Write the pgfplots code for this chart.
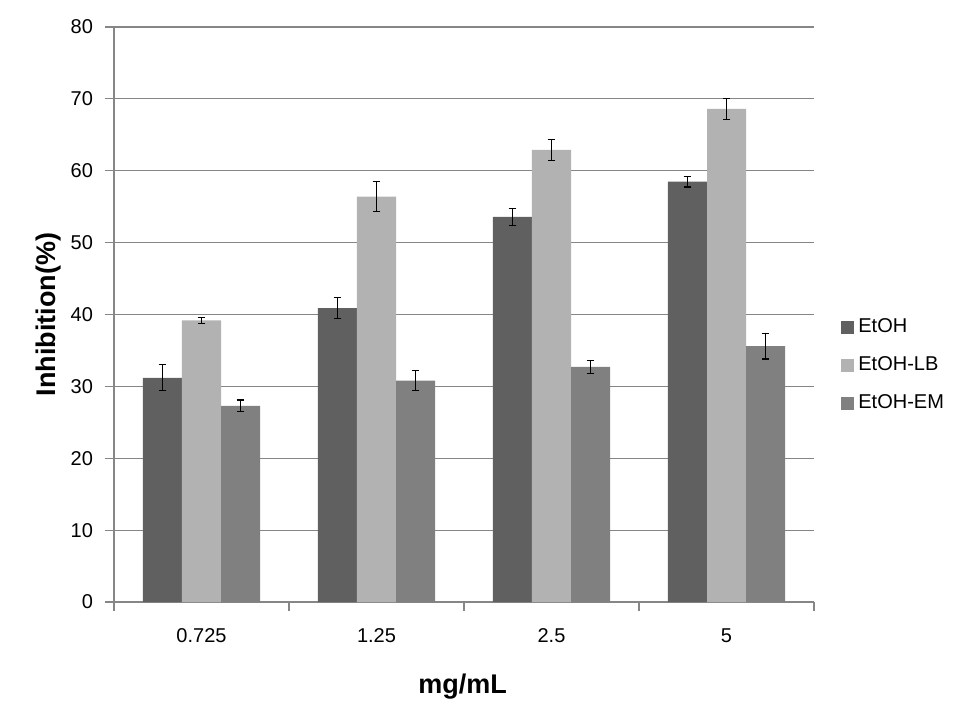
\documentclass[border=0pt]{standalone}
\usepackage{fontspec}
\setmainfont{Liberation Sans}
\usepackage{pgfplots}
\usepackage{pgfplotstable}
\pgfplotsset{compat=1.18}
\definecolor{cA}{RGB}{96,96,96}
\definecolor{cB}{RGB}{178,178,178}
\definecolor{cC}{RGB}{128,128,128}
\definecolor{gridgray}{RGB}{134,134,134}

\pgfplotstableread{
x y e
0 31.2 1.8
1 40.9 1.5
2 53.6 1.2
3 58.5 0.75
}\etoh
\pgfplotstableread{
x y e
0 39.2 0.4
1 56.4 2.1
2 62.9 1.45
3 68.6 1.45
}\etohlb
\pgfplotstableread{
x y e
0 27.3 0.8
1 30.8 1.4
2 32.7 0.9
3 35.6 1.8
}\etohem

\begin{document}
\begin{tikzpicture}
\begin{axis}[
  scale only axis, width=350bp, height=287.5bp,
  xmin=-0.5, xmax=3.5, ymin=0, ymax=80,
  ytick={0,10,...,80},
  xtick={-0.5,0.5,1.5,2.5,3.5}, xticklabels={},
  extra x ticks={0,1,2,3},
  extra x tick labels={0.725,1.25,2.5,5},
  extra x tick style={major tick length=0pt},
  axis x line*=bottom, axis y line*=left,
  axis line style={gridgray, line width=0.6bp},
  ymajorgrids, grid style={gridgray, line width=0.6bp},
  tick style={gridgray, line width=0.6bp},
  tick align=outside, major tick length=4.5bp,
  /pgf/number format/assume math mode=true,
  tick label style={font=\fontsize{10bp}{12bp}\selectfont, black},
  xticklabel style={anchor=base, yshift=-20bp},
  yticklabel style={xshift=-2.5bp},
  ylabel={Inhibition(\%)},
  xlabel={mg/mL},
  label style={font=\fontsize{13.5bp}{16bp}\selectfont\bfseries},
  ylabel style={at={(rel axis cs:-0.094,0.5)}, anchor=center},
  xlabel style={at={(rel axis cs:0.498,-0.1478)}, anchor=center},
  ybar, bar width=0.2229,
  clip=false,
  legend style={at={(rel axis cs:1.03,0.412)}, anchor=west, draw=none, fill=none,
     font=\fontsize{10bp}{12bp}\selectfont, row sep=6.5bp},
  legend cell align=left,
  error bars/y dir=both, error bars/y explicit,
  error bars/error bar style={black, line width=0.6bp},
  error bars/error mark options={rotate=90, mark size=1.9bp, black, line width=0.6bp},
  myleg/.style={legend image code/.code={\fill[##1] (0bp,-3.25bp) rectangle (6.5bp,3.25bp);}},
]
\addplot[fill=cA, draw=none, bar shift=-0.2229, myleg] table[x=x, y=y, y error=e] {\etoh};
\addlegendentry{EtOH}
\addplot[fill=cB, draw=none, bar shift=0, myleg] table[x=x, y=y, y error=e] {\etohlb};
\addlegendentry{EtOH-LB}
\addplot[fill=cC, draw=none, bar shift=0.2229, myleg] table[x=x, y=y, y error=e] {\etohem};
\addlegendentry{EtOH-EM}
\coordinate (bl) at (rel axis cs:-0.16286,-0.2087);
\coordinate (tr) at (rel axis cs:1.21143,1.04696);
\end{axis}
\pgfresetboundingbox
\path (bl) rectangle (tr);
\end{tikzpicture}
\end{document}
